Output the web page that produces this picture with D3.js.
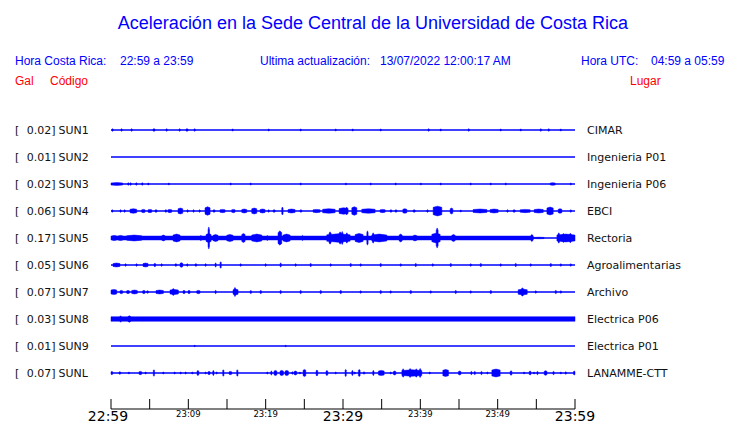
<!DOCTYPE html>
<html><head><meta charset="utf-8">
<script src="https://cdn.jsdelivr.net/npm/d3@7/dist/d3.min.js"></script>
<style>body{margin:0;background:#fff}svg{display:block}</style>
</head><body>
<svg id="c" width="740" height="423"></svg>
<script>
// ---- data ----
const codes = ["SUN1","SUN2","SUN3","SUN4","SUN5","SUN6","SUN7","SUN8","SUN9","SUNL"];
const places = ["CIMAR","Ingenieria P01","Ingenieria P06","EBCI","Rectoria","Agroalimentarias","Archivo","Electrica P06","Electrica P01","LANAMME-CTT"];
const peaks = [0.02,0.01,0.02,0.06,0.17,0.05,0.07,0.03,0.01,0.07]; // gal
const tickLabels = ["22:59","23:04","23:09","23:14","23:19","23:24","23:29","23:34","23:39","23:44","23:49","23:54","23:59"];
const majorLabels = ["22:59","23:29","23:59"];
const minorLabels = ["23:09","23:19","23:39","23:49"];
// envelope segments per station: [start minute, end minute, half-amplitude gal]
const sun1 = [[0.13,0.13,0.02],[1.29,1.29,0.02],[2.59,2.72,0.02],[5.43,5.69,0.02],[7.12,7.12,0.02],[8.8,8.8,0.02],[9.7,9.96,0.02],[10.74,10.74,0.02],[15.65,15.65,0.015],[20.31,20.31,0.015],[24.45,24.45,0.015],[28.98,28.98,0.015],[31.18,31.18,0.015],[34.8,34.8,0.015],[41.0,41.0,0.02],[42.56,42.56,0.015],[46.18,46.18,0.02],[50.32,50.32,0.015],[52.91,52.91,0.015],[55.5,55.5,0.02],[56.53,56.53,0.02],[58.09,58.09,0.015]];
const sun2 = [];
const sun3 = [[0,1.5,0.022],[2.16,2.16,0.02],[2.46,2.46,0.02],[3.2,3.2,0.02],[3.97,3.97,0.02],[4.75,4.75,0.015],[7.41,7.41,0.015],[15.4,15.4,0.015],[17.98,17.98,0.015],[24.45,24.45,0.015],[30.3,30.3,0.015],[33.5,33.5,0.015],[36.74,36.74,0.015],[40,40,0.015],[42.56,42.56,0.015],[46.44,46.44,0.015],[49.03,49.03,0.015],[50.97,50.97,0.015],[56.79,57.44,0.02],[59.38,59.38,0.015]];
const sun4 = [[0.09,0.09,0.02],[1.16,1.16,0.02],[1.68,1.68,0.02],[2.46,3.32,0.035],[3.97,4.4,0.025],[4.79,5.27,0.025],[5.69,5.95,0.02],[6.99,7.21,0.02],[7.37,7.85,0.025],[8.67,9.28,0.045],[9.83,9.83,0.02],[10.6,10.6,0.02],[11.38,11.38,0.02],[12.16,12.81,0.065],[13.2,13.45,0.02],[14.1,14.75,0.025],[15.61,16.04,0.025],[16.91,17.55,0.03],[18.2,18.85,0.045],[19.28,19.92,0.03],[20.31,20.31,0.02],[20.96,21.22,0.02],[22.08,22.25,0.06],[22.9,23.8,0.03],[24.45,24.67,0.02],[26.13,27.04,0.025],[27.37,28.98,0.035],[29.5,30.66,0.05],[30.4,30.55,0.06],[31.14,31.79,0.065],[32.43,34.15,0.035],[34.8,35.45,0.025],[36.09,36.31,0.02],[36.74,36.96,0.02],[37.74,38.25,0.035],[39.07,39.33,0.02],[40.84,41.01,0.02],[41.66,42.78,0.075],[43.86,44.2,0.045],[45.15,45.15,0.015],[46.83,48.6,0.03],[49.03,50.06,0.03],[51.19,51.36,0.02],[52.0,52.26,0.02],[52.91,54.2,0.025],[54.72,55.89,0.03],[56.37,57.18,0.06],[57.83,58.3,0.035],[59.38,59.38,0.02]];
const sun5 = [[0,54.6,0.03],[54.6,56.0,0.012],[0.09,0.74,0.04],[0.91,1.55,0.04],[2.03,3.97,0.045],[6.56,6.99,0.045],[8.02,8.93,0.06],[11.51,11.73,0.04],[12.29,12.94,0.07],[12.55,12.74,0.17],[13.2,13.84,0.055],[14.97,15.78,0.055],[16.91,17.34,0.07],[18.2,19.5,0.06],[20.14,20.14,0.04],[21.6,22.08,0.11],[22.25,23.16,0.06],[24.67,24.84,0.04],[27.9,30.92,0.065],[28.2,28.45,0.095],[29.5,29.75,0.095],[29.8,30.0,0.1],[30.4,30.6,0.08],[31.57,32.6,0.07],[33.08,33.25,0.11],[33.73,35.67,0.06],[33.8,34.0,0.08],[37.26,37.65,0.06],[39.07,39.55,0.045],[41.49,42.56,0.075],[42.05,42.3,0.155],[44.07,44.5,0.055],[54.3,54.55,0.055],[57.66,60,0.06],[57.8,58.0,0.08],[58.4,58.6,0.07],[59.3,59.5,0.075]];
const sun6 = [[0.26,1.16,0.03],[1.81,1.81,0.02],[3.23,3.36,0.02],[4.14,4.79,0.03],[5.56,5.78,0.025],[6.47,6.47,0.02],[8.28,8.5,0.02],[8.93,9.28,0.035],[9.79,9.79,0.02],[10.87,11.09,0.02],[12.16,12.16,0.02],[13.45,13.6,0.03],[14.1,14.1,0.05],[16.69,16.69,0.02],[19.92,19.92,0.02],[21.86,22.0,0.03],[23.8,23.8,0.02],[25.74,25.9,0.025],[28.33,28.33,0.02],[30.92,31.05,0.025],[32.21,32.21,0.02],[34.8,34.95,0.025],[37.39,37.39,0.02],[39.33,39.45,0.025],[41.53,41.53,0.02],[43.86,44.0,0.025],[46.44,46.44,0.02],[47.74,47.9,0.025],[50.32,50.32,0.02],[52.26,52.4,0.025],[54.2,54.2,0.02],[56.79,56.95,0.025],[58.09,58.09,0.02],[59.38,59.38,0.02]];
const sun7 = [[0,0.74,0.04],[1.16,1.51,0.025],[2.03,2.37,0.025],[2.68,3.4,0.03],[4.1,4.4,0.025],[4.62,4.83,0.02],[5.82,6.77,0.03],[7.63,8.71,0.04],[7.95,8.15,0.055],[9.31,9.57,0.025],[9.96,10.22,0.025],[11.09,11.51,0.025],[13.45,13.6,0.025],[15.78,16.43,0.045],[15.95,16.1,0.07],[18.0,18.15,0.025],[19.28,19.45,0.025],[21.86,22.0,0.025],[24.45,24.6,0.025],[27.04,27.2,0.025],[29.62,29.8,0.025],[32.21,32.21,0.02],[34.8,34.95,0.025],[36.09,36.09,0.02],[38.68,38.85,0.025],[41.27,41.27,0.02],[44.5,44.65,0.025],[46.44,46.44,0.02],[49.03,49.2,0.025],[52.65,53.82,0.045],[53.1,53.3,0.065],[54.85,54.85,0.02],[57.44,57.6,0.025],[58.09,58.09,0.02]];
const sun8 = [[0,60,0.035],[1.16,1.16,0.05],[2.2,2.55,0.05]];
const sun9 = [[10.74,10.74,0.01],[22.5,22.5,0.01]];
const sunl = [[0,0.22,0.025],[1.03,1.25,0.02],[2.24,2.24,0.015],[3.62,3.97,0.025],[4.4,4.4,0.015],[5.47,5.47,0.05],[6.69,6.69,0.015],[8.15,8.15,0.015],[8.93,8.93,0.015],[9.57,9.57,0.015],[10.44,10.44,0.015],[11.13,11.35,0.04],[12.16,12.16,0.015],[12.55,12.81,0.025],[13.16,13.16,0.04],[13.58,13.58,0.015],[14.45,14.45,0.05],[15.27,15.61,0.025],[16.26,16.26,0.05],[20.14,20.14,0.015],[20.66,20.79,0.03],[21.09,21.44,0.04],[21.86,22.29,0.04],[22.51,22.94,0.04],[23.38,23.38,0.02],[23.67,24.02,0.03],[24.36,24.36,0.015],[24.84,25.19,0.055],[26.52,26.74,0.045],[27.81,28.03,0.04],[28.98,28.98,0.015],[30.27,30.4,0.055],[31.14,31.14,0.04],[31.44,31.44,0.015],[31.99,32.21,0.055],[32.64,32.64,0.02],[33.85,33.85,0.04],[34.58,35.32,0.04],[36.09,36.09,0.015],[36.52,36.83,0.03],[37.61,40.19,0.05],[37.7,37.85,0.065],[38.6,38.75,0.07],[39.4,39.55,0.065],[39.9,40.05,0.07],[41.14,41.14,0.015],[42.91,43.64,0.055],[44.93,45.24,0.03],[46.53,46.53,0.025],[46.96,46.96,0.025],[47.83,47.83,0.025],[48.6,48.6,0.015],[49.25,50.32,0.06],[51.62,51.84,0.035],[53.34,53.34,0.015],[54.08,54.3,0.03],[54.63,54.63,0.015],[55.07,55.07,0.025],[56.02,56.37,0.035],[57.14,57.31,0.025],[58.09,58.09,0.015],[58.73,58.73,0.02],[59.81,60,0.03]];
const traces = [sun1,sun2,sun3,sun4,sun5,sun6,sun7,sun8,sun9,sunl];

// ---- layout ----
const svg = d3.select("#c");
const blue = "#0000ff", red = "#ff0000", ink = "#111";
const x = d3.scaleLinear().domain([0,60]).range([111,575]);
const row = d3.scaleBand().domain(codes).range([116.5,386.5]);
const amp = d3.scaleLinear().domain([0,1]).range([0,65]); // px per gal (half amplitude)

svg.append("text").attr("x",373).attr("y",29).attr("text-anchor","middle")
  .attr("font-family","Liberation Sans, Arial, sans-serif").attr("font-size",18).attr("fill",blue)
  .text("Aceleración en la Sede Central de la Universidad de Costa Rica");

const hdr = (t,xx,yy,col,anchor) => svg.append("text").attr("x",xx).attr("y",yy)
  .attr("font-family","Liberation Sans, Arial, sans-serif").attr("font-size",12).attr("fill",col)
  .attr("text-anchor",anchor||"start").text(t);
hdr("Hora Costa Rica:",15,65,blue); hdr("22:59 a 23:59",120,65,blue);
hdr("Ultima actualización:",260,65,blue); hdr("13/07/2022 12:00:17 AM",380,65,blue);
hdr("Hora UTC:",581,65,blue); hdr("04:59 a 05:59",651,65,blue);
hdr("Gal",15,85,red); hdr("Código",50,85,red); hdr("Lugar",630,85,red);

const line = d3.line();
const g = svg.append("g");
codes.forEach((c,i) => {
  const cy = row(c) + row.bandwidth()/2;
  const lab = (t,xx,anchor) => g.append("text").attr("x",xx).attr("y",cy+4)
    .attr("font-family","DejaVu Sans, sans-serif").attr("font-size",11).attr("fill",ink)
    .attr("text-anchor",anchor||"start").text(t);
  lab("[",15); lab(d3.format(".2f")(peaks[i])+"]",55.5,"end"); lab(c,58.5); lab(places[i],587);
  g.append("line").attr("x1",x(0)).attr("x2",x(60)).attr("y1",cy).attr("y2",cy)
    .attr("stroke",blue).attr("stroke-width",1.3);
  g.selectAll(null).data(traces[i]).join("path")
    .attr("d",d => {
      const x0 = x(d[0]), x1 = Math.max(x(d[1]), x0 + 1.2), a = amp(d[2]);
      const long = (d[1]-d[0]) > 10;
      const e = long ? a : a*0.75, xm = (x0+x1)/2;
      return line([[x0,cy-e],[xm,cy-a],[x1,cy-e],[x1,cy+e],[xm,cy+a],[x0,cy+e]]) + "Z";
    })
    .attr("fill",blue).attr("stroke",blue).attr("stroke-width",0.5);
});

// ---- axis ----
const ay = 409;
const ax = svg.append("g");
ax.append("line").attr("x1",x(0)).attr("x2",x(60)).attr("y1",ay).attr("y2",ay).attr("stroke","#000");
ax.selectAll(null).data(tickLabels).join("line")
  .attr("x1",(d,i)=>x(i*5)).attr("x2",(d,i)=>x(i*5)).attr("y1",ay).attr("y2",ay-10).attr("stroke","#000");
ax.selectAll(null).data(majorLabels).join("text")
  .attr("x",d => x(tickLabels.indexOf(d)*5) - (d==="22:59"?3:0)).attr("y",420.5).attr("text-anchor","middle")
  .attr("font-family","DejaVu Sans, sans-serif").attr("font-size",14).attr("fill","#000").text(d=>d);
ax.selectAll(null).data(minorLabels).join("text")
  .attr("x",d => x(tickLabels.indexOf(d)*5)).attr("y",417).attr("text-anchor","middle")
  .attr("font-family","DejaVu Sans, sans-serif").attr("font-size",8.5).attr("fill","#000").text(d=>d);
</script>
</body></html>
